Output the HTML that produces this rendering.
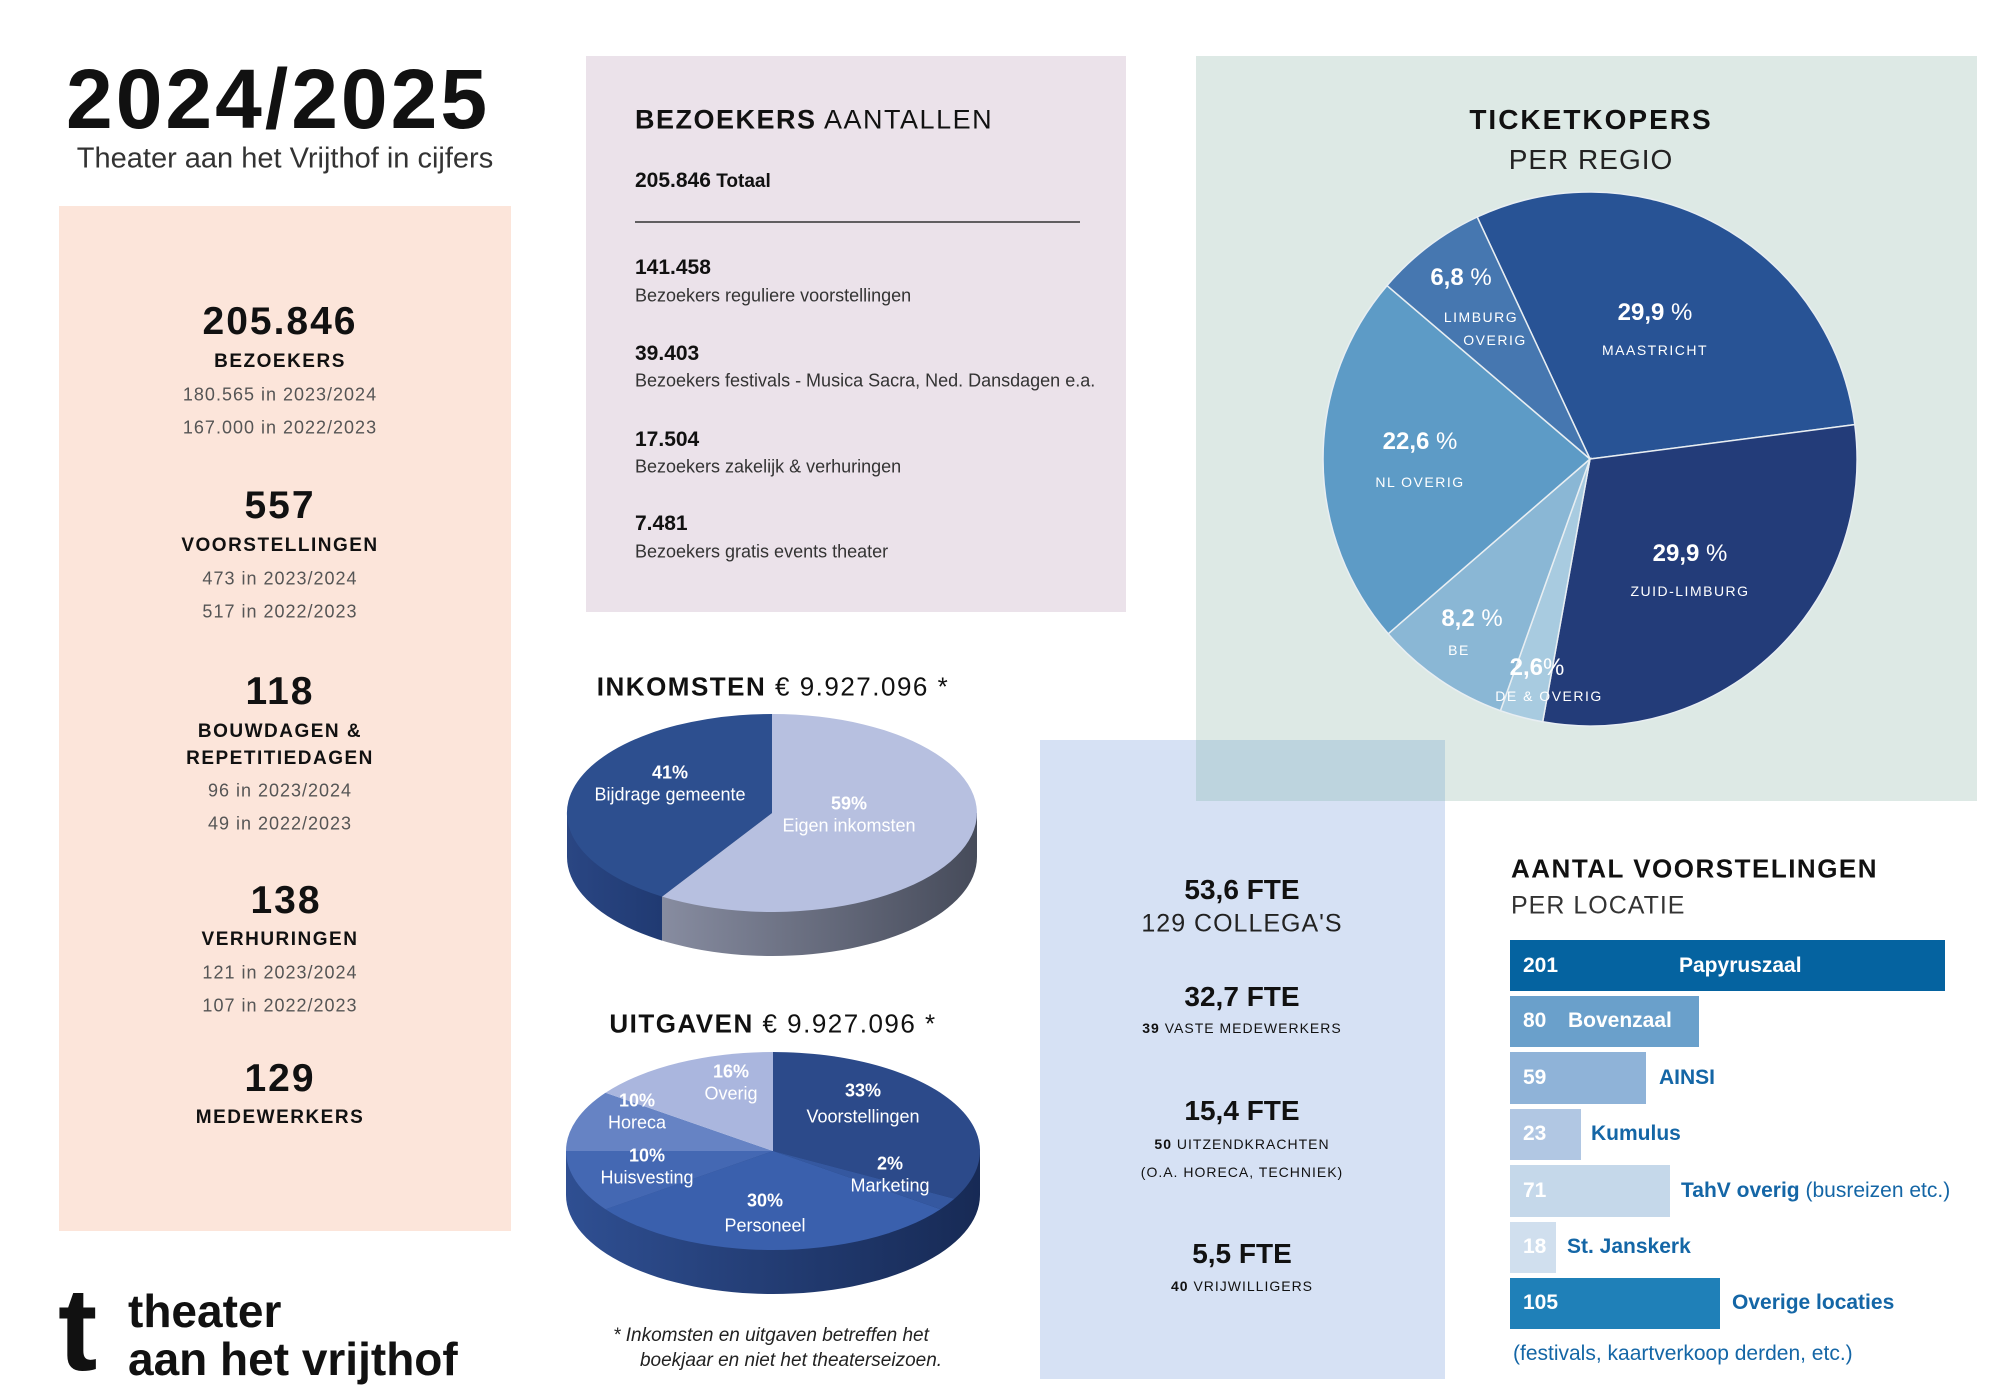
<!DOCTYPE html>
<html><head><meta charset="utf-8"><style>
body{margin:0;width:2000px;height:1393px;background:#fff;position:relative;overflow:hidden;font-family:"Liberation Sans",sans-serif;color:#111}
.a{position:absolute;white-space:nowrap}
.c{position:absolute;white-space:nowrap;transform:translate(-50%,-50%)}
.l{position:absolute;white-space:nowrap;transform:translateY(-50%)}
.box{position:absolute}
.num{font-weight:bold;font-size:39px;letter-spacing:2px}
.lab{font-weight:bold;font-size:19px;letter-spacing:1.5px}
.sub{font-size:18px;color:#555;letter-spacing:1px}
.ln{font-weight:bold;font-size:21px}
.ds{font-size:18px;color:#333}
.pw{color:#fff;font-weight:bold;font-size:24px}
.pn{color:#fff;font-size:14px;letter-spacing:1.5px}
.iw{color:#fff;font-size:18px}
.bw{color:#fff;font-weight:bold;font-size:21px}
.bb{color:#1466a6;font-weight:bold;font-size:21px}
</style></head><body>
<div class="box" style="left:59px;top:206px;width:452px;height:1025px;background:#fce5da"></div>
<div class="box" style="left:586px;top:56px;width:540px;height:556px;background:#ebe2ea"></div>
<div class="box" style="left:1196px;top:56px;width:781px;height:745px;background:#dde9e5"></div>
<div class="box" style="left:1040px;top:740px;width:405px;height:639px;background:#d6e1f4"></div>
<div class="box" style="left:1196px;top:740px;width:249px;height:61px;background:#bdd4de"></div>

<svg class="a" style="left:0;top:0" width="2000" height="1393">
<defs>
<linearGradient id="g1" x1="567" x2="977" y1="0" y2="0" gradientUnits="userSpaceOnUse">
<stop offset="0" stop-color="#2a4683"/><stop offset="0.232" stop-color="#203a72"/><stop offset="0.232" stop-color="#878ca0"/><stop offset="1" stop-color="#464b5a"/></linearGradient>
<linearGradient id="g2" x1="566" x2="980" y1="0" y2="0" gradientUnits="userSpaceOnUse">
<stop offset="0" stop-color="#2f4f92"/><stop offset="1" stop-color="#172a55"/></linearGradient>
</defs>
<g stroke="#e8eef2" stroke-width="1.5">
<path d="M1590 459 L1477.2 217 A267 267 0 0 1 1854.8 424.6 Z" fill="#285395"/>
<path d="M1590 459 L1854.8 424.6 A267 267 0 0 1 1542.7 721.8 Z" fill="#233c79"/>
<path d="M1590 459 L1542.7 721.8 A267 267 0 0 1 1500.4 710.7 Z" fill="#a8cbe0"/>
<path d="M1590 459 L1500.4 710.7 A267 267 0 0 1 1388.2 633.8 Z" fill="#8ab7d5"/>
<path d="M1590 459 L1388.2 633.8 A267 267 0 0 1 1387 285.6 Z" fill="#5d9bc6"/>
<path d="M1590 459 L1387 285.6 A267 267 0 0 1 1477.2 217 Z" fill="#4677b0"/>
</g>
<path d="M567 813 L567 857 A205 99 0 0 0 977 857 L977 813 Z" fill="url(#g1)"/>
<path d="M772 813 L772 714 A205 99 0 1 1 662.1 896.6 Z" fill="#b7c0e0"/>
<path d="M772 813 L662.1 896.6 A205 99 0 0 1 772 714 Z" fill="#2d4f8f"/>
<path d="M566 1151 L566 1195 A207 99 0 0 0 980 1195 L980 1151 Z" fill="url(#g2)"/>
<path d="M773 1151 L773 1052 A207 99 0 0 1 954.4 1198.7 Z" fill="#2c4a8a"/>
<path d="M773 1151 L954.4 1198.7 A207 99 0 0 1 940.5 1209.2 Z" fill="#3558a0"/>
<path d="M773 1151 L940.5 1209.2 A207 99 0 0 1 605.5 1209.2 Z" fill="#3a60ad"/>
<path d="M773 1151 L605.5 1209.2 A207 99 0 0 1 566 1151 Z" fill="#4468b3"/>
<path d="M773 1151 L566 1151 A207 99 0 0 1 605.5 1092.8 Z" fill="#6683c4"/>
<path d="M773 1151 L605.5 1092.8 A207 99 0 0 1 773 1052 Z" fill="#aab6de"/>
<rect x="1510" y="940" width="435" height="51" fill="#0563a0"/>
<rect x="1510" y="996" width="189" height="51" fill="#6aa0cb"/>
<rect x="1510" y="1052" width="136" height="52" fill="#8fb3d8"/>
<rect x="1510" y="1109" width="71" height="51" fill="#b1c7e3"/>
<rect x="1510" y="1165" width="160" height="52" fill="#c5d8ea"/>
<rect x="1510" y="1222" width="46" height="51" fill="#d0dfee"/>
<rect x="1510" y="1278" width="210" height="51" fill="#1f80b8"/>
<line x1="635" y1="222" x2="1080" y2="222" stroke="#333" stroke-width="1.5"/>
</svg>

<div class="a" style="left:66px;top:51px;font-size:84px;font-weight:bold;letter-spacing:3px">2024/2025</div>
<div class="c" style="left:285px;top:159px;font-size:29px;color:#333">Theater aan het Vrijthof in cijfers</div>

<div class="c num" style="left:280px;top:322px">205.846</div>
<div class="c lab" style="left:280px;top:362px">BEZOEKERS</div>
<div class="c sub" style="left:280px;top:395px">180.565 in 2023/2024</div>
<div class="c sub" style="left:280px;top:428px">167.000 in 2022/2023</div>
<div class="c num" style="left:280px;top:506px">557</div>
<div class="c lab" style="left:280px;top:546px">VOORSTELLINGEN</div>
<div class="c sub" style="left:280px;top:579px">473 in 2023/2024</div>
<div class="c sub" style="left:280px;top:612px">517 in 2022/2023</div>
<div class="c num" style="left:280px;top:692px">118</div>
<div class="c lab" style="left:280px;top:732px">BOUWDAGEN &amp;</div>
<div class="c lab" style="left:280px;top:759px">REPETITIEDAGEN</div>
<div class="c sub" style="left:280px;top:791px">96 in 2023/2024</div>
<div class="c sub" style="left:280px;top:824px">49 in 2022/2023</div>
<div class="c num" style="left:286px;top:901px">138</div>
<div class="c lab" style="left:280px;top:940px">VERHURINGEN</div>
<div class="c sub" style="left:280px;top:973px">121 in 2023/2024</div>
<div class="c sub" style="left:280px;top:1006px">107 in 2022/2023</div>
<div class="c num" style="left:280px;top:1079px">129</div>
<div class="c lab" style="left:280px;top:1118px">MEDEWERKERS</div>

<div class="a" style="left:58px;top:1271px;font-size:118px;font-weight:bold;line-height:1">t</div>
<div class="l" style="left:128px;top:1311px;font-size:46px;font-weight:bold">theater</div>
<div class="l" style="left:128px;top:1359px;font-size:46px;font-weight:bold">aan het vrijthof</div>

<div class="l" style="left:635px;top:120px;font-size:27px;letter-spacing:1.5px"><b>BEZOEKERS</b> AANTALLEN</div>
<div class="l" style="left:635px;top:181px;font-size:19px"><b style="font-size:21px">205.846</b> <b>Totaal</b></div>
<div class="l ln" style="left:635px;top:268px">141.458</div>
<div class="l ds" style="left:635px;top:296px">Bezoekers reguliere voorstellingen</div>
<div class="l ln" style="left:635px;top:354px">39.403</div>
<div class="l ds" style="left:635px;top:381px">Bezoekers festivals - Musica Sacra, Ned. Dansdagen e.a.</div>
<div class="l ln" style="left:635px;top:440px">17.504</div>
<div class="l ds" style="left:635px;top:467px">Bezoekers zakelijk &amp; verhuringen</div>
<div class="l ln" style="left:635px;top:524px">7.481</div>
<div class="l ds" style="left:635px;top:552px">Bezoekers gratis events theater</div>

<div class="c" style="left:1591px;top:120px;font-size:28px;font-weight:bold;letter-spacing:2px">TICKETKOPERS</div>
<div class="c" style="left:1591px;top:160px;font-size:28px;letter-spacing:1px;color:#222">PER REGIO</div>
<div class="c pw" style="left:1461px;top:278px">6,8 <span style="font-weight:normal">%</span></div>
<div class="c pn" style="left:1481px;top:317px">LIMBURG</div>
<div class="c pn" style="left:1495px;top:340px">OVERIG</div>
<div class="c pw" style="left:1655px;top:313px">29,9 <span style="font-weight:normal">%</span></div>
<div class="c pn" style="left:1655px;top:350px">MAASTRICHT</div>
<div class="c pw" style="left:1420px;top:442px">22,6 <span style="font-weight:normal">%</span></div>
<div class="c pn" style="left:1420px;top:482px">NL OVERIG</div>
<div class="c pw" style="left:1690px;top:554px">29,9 <span style="font-weight:normal">%</span></div>
<div class="c pn" style="left:1690px;top:591px">ZUID-LIMBURG</div>
<div class="c pw" style="left:1472px;top:619px">8,2 <span style="font-weight:normal">%</span></div>
<div class="c pn" style="left:1459px;top:650px">BE</div>
<div class="c pw" style="left:1537px;top:668px">2,6<span style="font-weight:normal">%</span></div>
<div class="c pn" style="left:1549px;top:696px">DE &amp; OVERIG</div>

<div class="c" style="left:773px;top:687px;font-size:26px;letter-spacing:1.5px"><b>INKOMSTEN</b> € 9.927.096 *</div>
<div class="c iw" style="left:670px;top:773px;font-weight:bold">41%</div>
<div class="c iw" style="left:670px;top:795px">Bijdrage gemeente</div>
<div class="c iw" style="left:849px;top:804px;font-weight:bold">59%</div>
<div class="c iw" style="left:849px;top:826px">Eigen inkomsten</div>

<div class="c" style="left:773px;top:1024px;font-size:26px;letter-spacing:1.5px"><b>UITGAVEN</b> € 9.927.096 *</div>
<div class="c iw" style="left:731px;top:1072px;font-weight:bold">16%</div>
<div class="c iw" style="left:731px;top:1094px">Overig</div>
<div class="c iw" style="left:863px;top:1091px;font-weight:bold">33%</div>
<div class="c iw" style="left:863px;top:1117px">Voorstellingen</div>
<div class="c iw" style="left:637px;top:1101px;font-weight:bold">10%</div>
<div class="c iw" style="left:637px;top:1123px">Horeca</div>
<div class="c iw" style="left:647px;top:1156px;font-weight:bold">10%</div>
<div class="c iw" style="left:647px;top:1178px">Huisvesting</div>
<div class="c iw" style="left:890px;top:1164px;font-weight:bold">2%</div>
<div class="c iw" style="left:890px;top:1186px">Marketing</div>
<div class="c iw" style="left:765px;top:1201px;font-weight:bold">30%</div>
<div class="c iw" style="left:765px;top:1226px">Personeel</div>
<div class="c" style="left:771px;top:1336px;font-size:19px;font-style:italic;color:#222">* Inkomsten en uitgaven betreffen het</div>
<div class="c" style="left:791px;top:1361px;font-size:19px;font-style:italic;color:#222">boekjaar en niet het theaterseizoen.</div>

<div class="c" style="left:1242px;top:890px;font-size:28px;font-weight:bold">53,6 FTE</div>
<div class="c" style="left:1242px;top:924px;font-size:25px;letter-spacing:1px;color:#222">129 COLLEGA'S</div>
<div class="c" style="left:1242px;top:997px;font-size:28px;font-weight:bold">32,7 FTE</div>
<div class="c" style="left:1242px;top:1028px;font-size:14px;letter-spacing:1px"><b>39</b> VASTE MEDEWERKERS</div>
<div class="c" style="left:1242px;top:1111px;font-size:28px;font-weight:bold">15,4 FTE</div>
<div class="c" style="left:1242px;top:1144px;font-size:14px;letter-spacing:1px"><b>50</b> UITZENDKRACHTEN</div>
<div class="c" style="left:1242px;top:1172px;font-size:14px;letter-spacing:1px">(O.A. HORECA, TECHNIEK)</div>
<div class="c" style="left:1242px;top:1254px;font-size:28px;font-weight:bold">5,5 FTE</div>
<div class="c" style="left:1242px;top:1286px;font-size:14px;letter-spacing:1px"><b>40</b> VRIJWILLIGERS</div>

<div class="l" style="left:1511px;top:869px;font-size:26px;font-weight:bold;letter-spacing:1.5px">AANTAL VOORSTELINGEN</div>
<div class="l" style="left:1511px;top:906px;font-size:25px;color:#333;letter-spacing:1px">PER LOCATIE</div>
<div class="l bw" style="left:1523px;top:966px">201</div>
<div class="l bw" style="left:1679px;top:966px">Papyruszaal</div>
<div class="l bw" style="left:1523px;top:1021px">80</div>
<div class="l bw" style="left:1568px;top:1021px">Bovenzaal</div>
<div class="l bw" style="left:1523px;top:1078px">59</div>
<div class="l bb" style="left:1659px;top:1078px">AINSI</div>
<div class="l bw" style="left:1523px;top:1134px">23</div>
<div class="l bb" style="left:1591px;top:1134px">Kumulus</div>
<div class="l bw" style="left:1523px;top:1191px">71</div>
<div class="l bb" style="left:1681px;top:1191px">TahV overig <span style="font-weight:normal">(busreizen etc.)</span></div>
<div class="l bw" style="left:1523px;top:1247px">18</div>
<div class="l bb" style="left:1567px;top:1247px">St. Janskerk</div>
<div class="l bw" style="left:1523px;top:1303px">105</div>
<div class="l bb" style="left:1732px;top:1303px">Overige locaties</div>
<div class="l" style="left:1513px;top:1354px;font-size:21px;color:#1466a6">(festivals, kaartverkoop derden, etc.)</div>
</body></html>
